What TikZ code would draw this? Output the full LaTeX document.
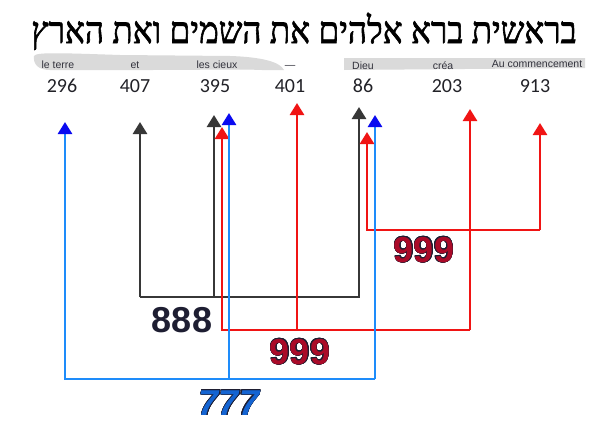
\documentclass[tikz,border=0pt]{standalone}
\usepackage{fontspec}
\usepackage{contour}
\setmainfont{Liberation Sans}
\newfontfamily\hebfont[Script=Hebrew,FakeBold=1.6,FakeStretch=0.9]{Liberation Serif}
\newfontfamily\numfont{Carlito}
\TeXXeTstate=1
\usetikzlibrary{arrows.meta}
\definecolor{GmInk}{RGB}{34,34,40}
\definecolor{GmGloss}{RGB}{50,50,60}
\definecolor{GmSmudge}{RGB}{218,218,218}
\definecolor{GmBlueLine}{RGB}{30,140,250}
\definecolor{GmBlueHead}{RGB}{10,10,240}
\definecolor{GmBlack}{RGB}{55,55,55}
\definecolor{GmRed}{RGB}{240,20,20}
\definecolor{GmDarkRed}{RGB}{170,10,40}
\definecolor{GmNavy}{RGB}{30,30,50}
\definecolor{GmBlueText}{RGB}{20,100,210}
\contourlength{0.7pt}
\tikzset{
  gm/word/.style={font=\hebfont\fontsize{37}{39}\selectfont, text=black, inner sep=0pt, anchor=base},
  gm/gloss/.style={font=\fontsize{10.5}{11}\selectfont, text=GmGloss, inner sep=0pt, anchor=base},
  gm/value/.style={font=\numfont\fontsize{20}{22}\selectfont, text=GmInk, inner sep=0pt, anchor=base},
  gm/sum/.style={font=\bfseries\fontsize{36}{38}\selectfont, inner sep=0pt},
  gm/line/.style={line width=2.6pt, line cap=butt, line join=miter},
  gm/blue/.style={gm/line, draw=GmBlueLine},
  gm/black/.style={gm/line, draw=GmBlack},
  gm/red/.style={gm/line, draw=GmRed},
  gm/bluetip/.style={-{Triangle[length=12pt,width=14pt,color=GmBlueHead]}},
  gm/blacktip/.style={-{Triangle[length=12pt,width=14pt,color=GmBlack]}},
  gm/redtip/.style={-{Triangle[length=12pt,width=14pt,color=GmRed]}}
}

\begin{document}
\begin{tikzpicture}[x=1pt,y=-1pt]
  \useasboundingbox[fill=white] (0,0) rectangle (613,442);
  % smudges behind the glosses
  \fill[GmSmudge] (34,56) .. controls (36,52) and (60,53) .. (120,55) -- (230,56)
    .. controls (262,57) and (280,62) .. (284,70) -- (262,70) .. controls (240,69) and (200,70) .. (150,70)
    -- (50,70) .. controls (38,70) and (33,64) .. (34,56) -- cycle;
  \fill[GmSmudge] (344,58) -- (585,58) -- (585,68) -- (344,70) -- cycle;

  % verse
  \node[gm/word] (verse) at (304,43) {\beginR בראשית ברא אלהים את השמים ואת הארץ\endR};

  % glosses
  \node[gm/gloss] (terre) at (58,68) {le terre};
  \node[gm/gloss] (et) at (135,68) {et};
  \node[gm/gloss] (cieux) at (217,68) {les cieux};
  \node[gm/gloss] (dash) at (290,68) {---};
  \node[gm/gloss] (dieu) at (363,69) {Dieu};
  \node[gm/gloss] (crea) at (443,69) {créa};
  \node[gm/gloss] (commencement) at (537,67) {Au commencement};

  % values
  \node[gm/value] (v296) at (62,92) {296};
  \node[gm/value] (v407) at (135,92) {407};
  \node[gm/value] (v395) at (215,92) {395};
  \node[gm/value] (v401) at (290,92) {401};
  \node[gm/value] (v86) at (363,92) {86};
  \node[gm/value] (v203) at (447,92) {203};
  \node[gm/value] (v913) at (535,92) {913};

  % tips
  \coordinate (k1) at (140,122);
  \coordinate (k2) at (214,115);
  \coordinate (k3) at (359,107);
  \coordinate (kbus) at (0,297);
  \coordinate (r1) at (222,127);
  \coordinate (r2) at (297,103);
  \coordinate (r3) at (470,109);
  \coordinate (rbus) at (0,330);
  \coordinate (q1) at (367,132);
  \coordinate (q2) at (540,123);
  \coordinate (qbus) at (0,230);
  \coordinate (b1) at (65,122);
  \coordinate (b2) at (229,113);
  \coordinate (b3) at (375,115);
  \coordinate (bbus) at (0,379);

  % 888
  \draw[gm/black,gm/blacktip] (k1 |- kbus) -- (k1);
  \draw[gm/black,gm/blacktip] (k2 |- kbus) -- (k2);
  \draw[gm/black,gm/blacktip] (k1 |- kbus) -- (k3 |- kbus) -- (k3);
  % 999 (upper)
  \draw[gm/red,gm/redtip] (q2 |- qbus) -- (q1 |- qbus) -- (q1);
  \draw[gm/red,gm/redtip] (q2 |- qbus) -- (q2);
  % 999 (lower)
  \draw[gm/red,gm/redtip] (r3 |- rbus) -- (r1 |- rbus) -- (r1);
  \draw[gm/red,gm/redtip] (r2 |- rbus) -- (r2);
  \draw[gm/red,gm/redtip] (r3 |- rbus) -- (r3);
  % 777
  \draw[gm/blue,gm/bluetip] (b3 |- bbus) -- (b1 |- bbus) -- (b1);
  \draw[gm/blue,gm/bluetip] (b2 |- bbus) -- (b2);
  \draw[gm/blue,gm/bluetip] (b3 |- bbus) -- (b3);

  % sums
  \node[gm/sum, text=GmNavy] (s888) at (182,320) {888};
  \node[gm/sum] (s999a) at (424,250) {\contour{GmNavy}{\textcolor{GmDarkRed}{999}}};
  \node[gm/sum] (s999b) at (300,352) {\contour{GmNavy}{\textcolor{GmDarkRed}{999}}};
  \node[gm/sum] (s777) at (229,403) {\contour{GmNavy}{\textcolor{GmBlueText}{\itshape 777}}};
\end{tikzpicture}
\end{document}
